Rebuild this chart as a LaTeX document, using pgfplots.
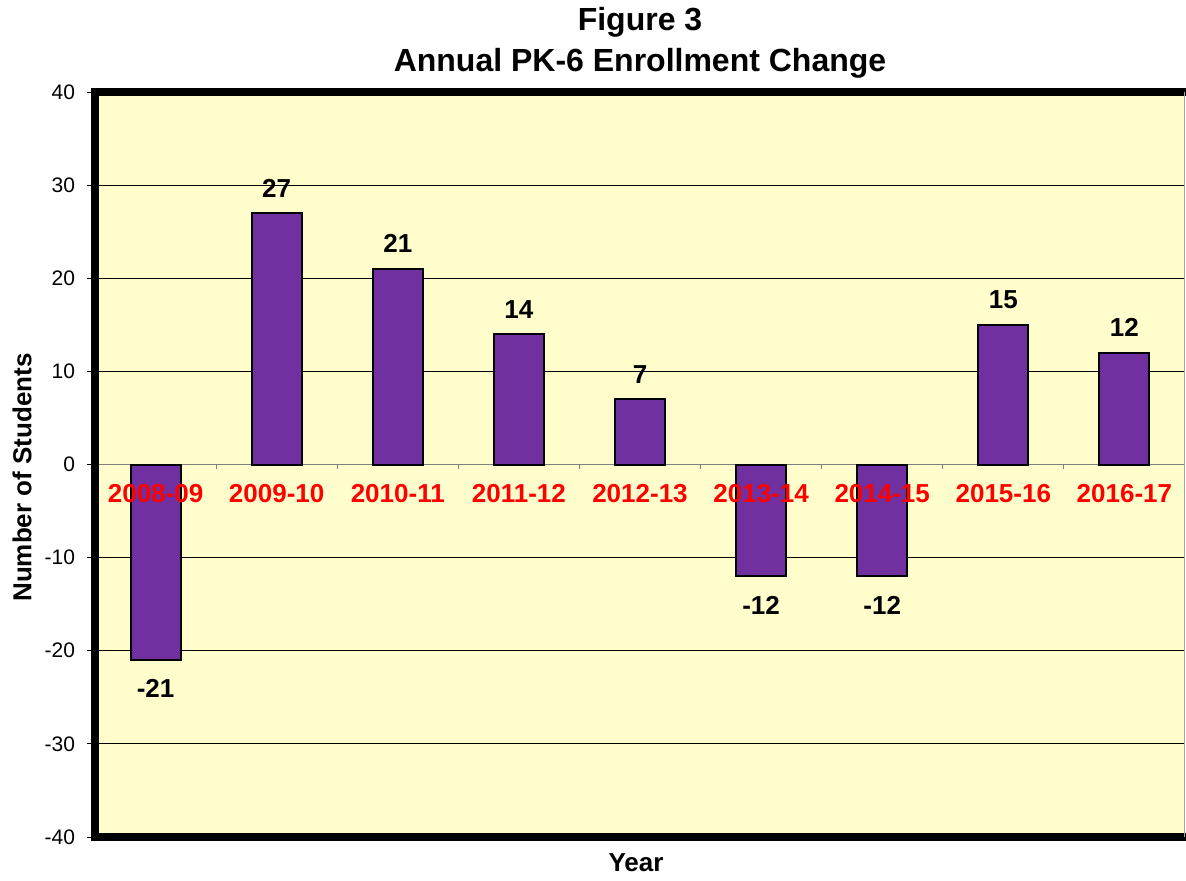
\documentclass[border=0pt]{standalone}
\usepackage{pgfplots}
\pgfplotsset{compat=1.18}
\usetikzlibrary{calc}
\usepackage{fontspec}
\setmainfont{Liberation Sans}
\definecolor{bgy}{RGB}{255,253,204}
\definecolor{barp}{RGB}{112,48,160}
\definecolor{labred}{RGB}{255,0,0}
\begin{document}
\begin{tikzpicture}
\path[use as bounding box] (-47.5pt,-21.5pt) rectangle (545.5pt,418.5pt);
\begin{axis}[
  name=ax,
  scale only axis,
  width=545pt, height=372.5pt,
  xmin=-0.5, xmax=8.5,
  ymin=-40, ymax=40,
  ytick={-40,-30,...,40},
  xtick={0,...,8},
  xticklabel=\empty,
  minor xtick={0.5,1.5,...,7.5},
  axis x line=middle,
  axis y line=left,
  x axis line style={draw=black!50, line width=0.6pt, -},
  y axis line style={draw=none, -},
  tick align=outside,
  xtick style={draw=none},
  minor x tick style={draw=black!50, line width=0.6pt},
  minor tick length=2pt,
  ytick style={draw=black, line width=0.5pt},
  major tick length=4pt,
  ymajorgrids,
  grid style={black, line width=0.5pt},
  axis background/.style={fill=bgy},
  /pgf/number format/assume math mode=true,
  yticklabel style={font=\fontsize{10.5}{12}\selectfont, xshift=-2.5pt},
  ylabel={Number of Students},
  xlabel={Year},
  every axis y label/.style={at={(rel axis cs:0,0.5)}, xshift=-36.5pt, yshift=-6.5pt, rotate=90, anchor=center, font=\fontsize{13}{15}\selectfont\bfseries},
  every axis x label/.style={at={(rel axis cs:0.5,0)}, xshift=-2pt, yshift=-13pt, anchor=center, font=\fontsize{13}{15}\selectfont\bfseries},
  title={Figure 3\\Annual PK-6 Enrollment Change},
  title style={align=center, font=\fontsize{16}{20.5}\selectfont\bfseries, at={(rel axis cs:0.5,1)}, anchor=base, yshift=4.5pt},
  ybar, bar width=25pt, bar shift=0pt,
  nodes near coords,
  nodes near coords align={vertical},
  visualization depends on={y \as \rawy},
  every node near coord/.append style={font=\fontsize{13}{15}\selectfont\bfseries, text=black, yshift={ifthenelse(\rawy>0,4.2,-6)*1pt}},
]
\addplot[fill=barp, draw=black, line width=1pt] coordinates {
(0,-21) (1,27) (2,21) (3,14) (4,7) (5,-12) (6,-12) (7,15) (8,12)
};
\end{axis}
% overlay axis that only sets the category labels, so they lie above the bars
\begin{axis}[
  scale only axis,
  width=545pt, height=372.5pt,
  xmin=-0.5, xmax=8.5,
  ymin=-40, ymax=40,
  axis x line=middle,
  axis y line=none,
  x axis line style={draw=none, -},
  xtick={0,...,8},
  xticklabels={2008-09,2009-10,2010-11,2011-12,2012-13,2013-14,2014-15,2015-16,2016-17},
  xtick style={draw=none},
  ytick=\empty,
  xticklabel style={font=\fontsize{13}{15}\selectfont\bfseries, text=labred, anchor=north, yshift=-4.5pt},
]
\end{axis}
\draw[line width=4pt, line cap=rect] (ax.north east) -- (ax.north west) -- (ax.south west) -- (ax.south east);
\draw[black!35, line width=0.6pt] ($(ax.north east)+(-0.3pt,0)$) -- ($(ax.south east)+(-0.3pt,0)$);
\end{tikzpicture}
\end{document}
